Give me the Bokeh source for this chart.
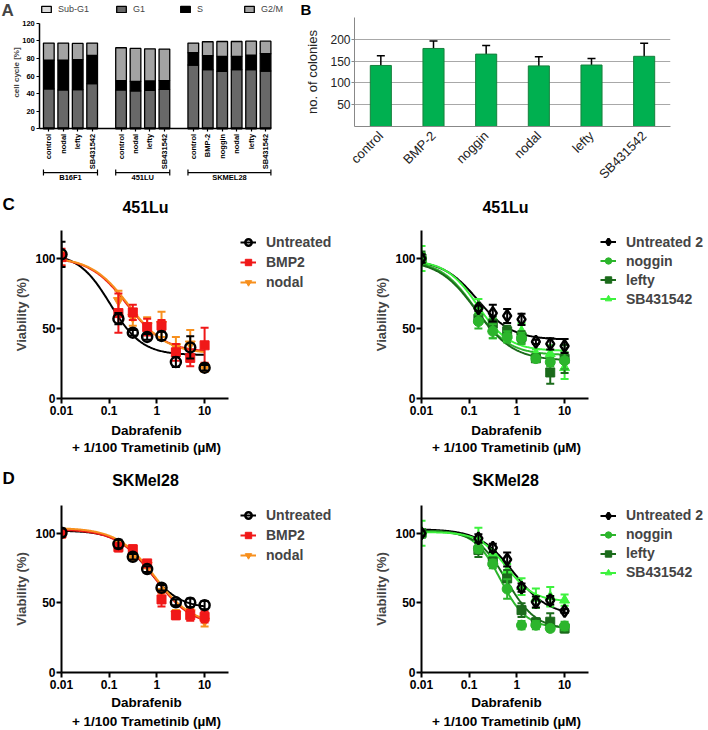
import math
import numpy as np
from bokeh.plotting import figure
from bokeh.models import (Range1d, FactorRange, FixedTicker, Legend, LegendItem, Label,
                          ColumnDataSource, Whisker, TeeHead)
from bokeh.layouts import column, row
from bokeh.embed import file_html
from bokeh.resources import INLINE
from bokeh.core.properties import value

FONT = "Liberation Sans"

# ---------------- Panel A: cell cycle distribution ----------------
a_groups = ["B16F1", "451LU", "SKMEL28"]
a_conditions_b16f1 = ["control", "nodal", "lefty", "SB431542"]
a_conditions_451lu = ["control", "nodal", "lefty", "SB431542"]
a_conditions_skmel28 = ["control", "BMP-2", "noggin", "nodal", "lefty", "SB431542"]
a_phases = ["Sub-G1", "G1", "S", "G2/M"]
a_subg1 = [1.0, 1.0, 1.0, 1.0, 1.0, 1.0, 1.0, 1.0, 1.0, 1.0, 1.0, 1.0, 1.0, 1.0]
a_g1 = [44.3, 43.2, 43.5, 50.3, 43.2, 42.0, 42.8, 43.9, 71.5, 66.2, 64.3, 66.2, 66.2, 64.7]
a_s = [32.8, 33.9, 34.0, 32.1, 10.5, 11.0, 10.5, 9.8, 13.9, 15.8, 17.0, 15.1, 16.6, 19.6]
a_g2m = [19.3, 19.3, 18.5, 14.0, 37.4, 37.3, 36.6, 35.9, 11.0, 15.9, 16.9, 16.9, 15.8, 14.3]
a_y_ticks = [0, 20, 40, 60, 80, 100, 120]

# ---------------- Panel B: colony numbers ----------------
b_conditions = ["control", "BMP-2", "noggin", "nodal", "lefty", "SB431542"]
b_colonies = [140, 179, 166, 139, 141, 161]
b_sd = [22, 17, 20, 21, 15, 30]
b_y_ticks = [50, 100, 150, 200]
b_grid_ticks = [50, 100, 150, 200, 250]

# ---------------- Panels C/D: dose response ----------------
doses = [0.01, 0.156, 0.3125, 0.625, 1.25, 2.5, 5, 10]
x_ticks = [0.01, 0.1, 1, 10]
x_tick_labels = ["0.01", "0.1", "1", "10"]
y_ticks = [0, 50, 100]
x_label_1 = "Dabrafenib"
x_label_2 = "+ 1/100 Trametinib (µM)"

# C left: 451Lu
c1_names = ["Untreated", "BMP2", "nodal"]
c1_untreated = [103, 57, 47, 44, 44.7, 26, 36.5, 22]
c1_untreated_sd = [9, 4, 2, 2, 3, 3.5, 8, 2]
c1_bmp2 = [101, 61, 61.5, 51, 52, 33, 29, 38]
c1_bmp2_sd = [6, 14, 5.5, 6, 4, 6, 6, 12.5]
c1_nodal = [100, 70, 58, 52, 53, 37, 39, 22]
c1_nodal_sd = [5, 7, 6, 6, 9, 7, 10, 3]
c1_fit_top = [104, 101, 101]
c1_fit_bottom = [31, 33, 32]
c1_fit_ec50 = [0.105, 0.24, 0.26]
c1_fit_hill = [1.3, 1.1, 1.1]

# C right: 451Lu
c2_names = ["Untreated 2", "noggin", "lefty", "SB431542"]
c2_untreated2 = [100, 64.5, 61, 59, 56.5, 40.5, 39, 37.5]
c2_untreated2_sd = [3, 2, 6, 5, 4, 1.5, 4, 5]
c2_noggin = [100, 55, 48, 44, 43, 28.5, 26, 27]
c2_noggin_sd = [4, 5, 5, 4, 4, 2, 3, 6]
c2_lefty = [100, 57, 53.5, 48, 44, 28.7, 18.6, 28.3]
c2_lefty_sd = [5, 3, 5, 4, 4, 2, 8, 10]
c2_sb431542 = [100, 66, 50, 45, 48, 32, 32, 22]
c2_sb431542_sd = [9, 5, 7, 4, 6, 3, 6, 8]
c2_fit_top = [99, 99, 99, 99]
c2_fit_bottom = [42, 31, 27, 34]
c2_fit_ec50 = [0.15, 0.13, 0.14, 0.15]
c2_fit_hill = [1.2, 1.2, 1.1, 1.3]

# D left: SKMel28
d1_names = ["Untreated", "BMP2", "nodal"]
d1_untreated = [100.5, 92.3, 83.2, 74.3, 60.9, 50.4, 50.1, 48.4]
d1_untreated_sd = [3, 3, 2, 2, 2, 2, 3, 3]
d1_bmp2 = [100, 90, 88.5, 78.4, 52.5, 41.2, 41.2, 40]
d1_bmp2_sd = [3, 3, 3, 2, 5, 3, 4, 4]
d1_nodal = [100, 92, 83, 77, 57, 42, 43, 37]
d1_nodal_sd = [3, 2, 2, 2, 3, 3, 3, 4]
d1_fit_top = [102, 103, 104]
d1_fit_bottom = [46, 33, 34]
d1_fit_ec50 = [0.65, 0.9, 0.9]
d1_fit_hill = [1.3, 1.1, 1.1]

# D right: SKMel28
d2_names = ["Untreated 2", "noggin", "lefty", "SB431542"]
d2_untreated2 = [100, 96.4, 89.6, 81.2, 61, 50.7, 51.9, 44.2]
d2_untreated2_sd = [2, 3, 3, 5, 3, 4, 3, 1.5]
d2_noggin = [100, 89, 78, 60, 34, 34, 31.7, 33.4]
d2_noggin_sd = [3, 3, 3, 7, 3, 3, 2, 3]
d2_lefty = [100, 88, 79.6, 67.6, 44.8, 36, 36.5, 31.7]
d2_lefty_sd = [3, 5, 3, 6, 5, 3, 6, 3]
d2_sb431542 = [100, 96, 85, 73, 61.7, 53.3, 54.5, 52]
d2_sb431542_sd = [9, 8, 3, 5, 6, 7, 7, 4]
d2_fit_top = [103, 102, 102, 101]
d2_fit_bottom = [41, 32, 31, 51]
d2_fit_ec50 = [0.85, 0.45, 0.6, 0.6]
d2_fit_hill = [1.2, 1.6, 1.4, 1.5]

# styles
BLACK = "#000000"
RED = "#f01818"
ORANGE = "#f7901e"
NOGGIN = "#2cb52c"
LEFTY = "#1b6b1b"
SBG = "#3df23d"


def base_fig(width, height, left=0, right=0, top=0, bottom=0, **kw):
    p = figure(width=width, height=height, output_backend="svg", toolbar_location=None,
               min_border_left=left, min_border_right=right, min_border_top=top,
               min_border_bottom=bottom, **kw)
    try:
        p.title = None
    except Exception:
        p.title.visible = False
    try:
        p.frame_align = False
    except Exception:
        pass
    p.outline_line_color = None
    p.grid.visible = False
    return p


def strip(width, height, items):
    s = base_fig(width, height, x_range=Range1d(0, width), y_range=Range1d(height, 0))
    s.axis.visible = False
    for x, y, txt, size, align, baseline in items:
        s.text(x=[x], y=[y], text=[txt], text_align=align, text_baseline=baseline,
               text_font=value(FONT), text_font_size=size, text_font_style="bold", text_color="black")
    return s


# =============== Panel A ===============
a_conditions = [a_conditions_b16f1, a_conditions_451lu, a_conditions_skmel28]
a_x, a_names, spans = [], [], []
pos = 0
for conds in a_conditions:
    first = pos
    for c in conds:
        a_x.append(pos)
        a_names.append(c)
        pos += 1
    spans.append((first, pos - 1))
    pos += 1

A_W, A_H = 300, 190
A_PX = 14.45          # pixels per bar slot
A_X0 = -3.343         # data x at left edge
A_PY = 0.88           # pixels per percent
A_AXIS_X = -0.623
pA = base_fig(A_W, A_H, x_range=Range1d(A_X0, A_X0 + A_W / A_PX),
              y_range=Range1d(-(A_H - 128.3) / A_PY, 128.3 / A_PY))
srcA = ColumnDataSource(dict(x=a_x, subg1=a_subg1, g1=a_g1, s=a_s, g2m=a_g2m))
a_colors = ["#dcdcdc", "#686868", "#000000", "#a3a3a3"]
rA = pA.vbar_stack(["subg1", "g1", "s", "g2m"], x="x", width=0.74, color=a_colors,
                   line_color="black", line_width=1.3, source=srcA)

xa = pA.xaxis[0]
xa.fixed_location = 0
xa.bounds = (A_AXIS_X, a_x[-1] + 0.35)
xa.ticker = FixedTicker(ticks=a_x)
xa.major_label_overrides = {x: n for x, n in zip(a_x, a_names)}
xa.major_label_orientation = math.pi / 2
ya = pA.yaxis[0]
ya.fixed_location = A_AXIS_X
ya.bounds = (0, 120)
ya.ticker = FixedTicker(ticks=a_y_ticks)
for ax in (xa, ya):
    ax.axis_line_width = 1.5
    ax.major_tick_out = 3
    ax.major_tick_in = 0
    ax.major_tick_line_width = 1.2
    ax.minor_tick_line_color = None
    ax.major_label_text_font = FONT
    ax.major_label_text_font_size = "7.5px"
    ax.major_label_text_font_style = "bold"
    ax.major_label_text_color = "black"
    ax.major_label_standoff = 2

half = 0.37
bx0 = [s - half for s, e in spans]
bx1 = [e + half for s, e in spans]
pA.segment(x0=bx0, y0=[-49.7] * 3, x1=bx1, y1=[-49.7] * 3, line_color="black", line_width=1.2)
pA.segment(x0=bx0 + bx1, y0=[-46.3] * 6, x1=bx0 + bx1, y1=[-53.1] * 6, line_color="black", line_width=1.2)
pA.text(x=[(s + e) / 2 for s, e in spans], y=[-55.5] * 3, text=a_groups, text_align="center",
        text_baseline="middle", text_font=value(FONT), text_font_size="7.5px", text_font_style="bold")

legA = Legend(items=[LegendItem(label=ph, renderers=[r]) for ph, r in zip(a_phases, rA)],
              location=(40, 176), orientation="horizontal", spacing=26, glyph_width=12,
              glyph_height=8, label_height=9, label_standoff=6, padding=0, margin=0,
              border_line_color=None, background_fill_alpha=0, label_text_font=FONT,
              label_text_font_size="9px")
pA.add_layout(legA)
pA.add_layout(Label(x=-2.235, y=64, text="cell cycle [%]", angle=math.pi / 2, text_align="center",
                    text_baseline="middle", text_font=FONT, text_font_size="8px", text_font_style="bold"))
pA.add_layout(Label(x=A_X0 + 1 / A_PX, y=134.4, text="A", text_align="left", text_baseline="middle",
                    text_font=FONT, text_font_size="17px", text_font_style="bold"))

# =============== Panel B ===============
stripB = strip(408, 17, [(0, 8.5, "B", "15px", "left", "middle")])
pB = base_fig(408, 173, left=54, right=38, top=0, bottom=61,
              x_range=FactorRange(factors=b_conditions), y_range=Range1d(0, 250))
pB.ygrid.visible = True
pB.ygrid.ticker = FixedTicker(ticks=b_grid_ticks)
pB.ygrid.grid_line_color = "#a8a8a8"
srcB = ColumnDataSource(dict(x=b_conditions, top=b_colonies,
                             lo=[m - s for m, s in zip(b_colonies, b_sd)],
                             hi=[m + s for m, s in zip(b_colonies, b_sd)]))
pB.vbar(x="x", top="top", width=0.4, source=srcB, fill_color="#00b050", line_color="#17803d", line_width=1)
pB.add_layout(Whisker(source=srcB, base="x", upper="hi", lower="lo", line_color="black", line_width=1.5,
                      upper_head=TeeHead(size=8, line_color="black", line_width=1.5),
                      lower_head=TeeHead(size=8, line_color="black", line_width=1.5)))
yb = pB.yaxis[0]
yb.ticker = FixedTicker(ticks=b_y_ticks)
yb.axis_label = "no. of colonies"
yb.axis_label_text_font = FONT
yb.axis_label_text_font_style = "normal"
yb.axis_label_text_font_size = "13px"
yb.axis_label_text_color = "#222222"
yb.axis_label_standoff = 7
xb = pB.xaxis[0]
xb.major_label_orientation = math.pi / 4
xb.major_tick_line_color = None
for ax in (xb, yb):
    ax.axis_line_color = "#888888"
    ax.major_tick_out = 3
    ax.major_tick_in = 0
    ax.minor_tick_line_color = None
    ax.major_label_text_font = FONT
    ax.major_label_text_color = "#222222"
yb.major_label_standoff = 1
xb.major_label_standoff = 4
yb.major_tick_line_color = "#888888"
yb.major_label_text_font_size = "12px"
xb.major_label_text_font_size = "13px"


# =============== Panels C/D ===============
PX_DECADE = 47.7


def dose_panel(width, height, left, top, bottom, names, means, sds,
               fit_top, fit_bottom, fit_ec50, fit_hill, colors, markers, filled, sizes, item_h, leg_top):
    frame_w = width - left
    frame_h = height - top - bottom
    p = base_fig(width, height, left=left, right=0, top=top, bottom=bottom, x_axis_type="log",
                 x_range=Range1d(0.01, 10 ** (-2 + frame_w / PX_DECADE)), y_range=Range1d(0, 120))
    xs_fit = np.logspace(-2, 1, 160)
    line_rs = []
    for i in range(len(names)):
        y_fit = fit_bottom[i] + (fit_top[i] - fit_bottom[i]) / (1 + (xs_fit / fit_ec50[i]) ** fit_hill[i])
        line_rs.append(p.line(xs_fit, y_fit, line_color=colors[i], line_width=2))
    pt_rs = [None] * len(names)
    for i in reversed(range(len(names))):
        lo = [m - s for m, s in zip(means[i], sds[i])]
        hi = [m + s for m, s in zip(means[i], sds[i])]
        p.segment(x0=doses, y0=lo, x1=doses, y1=hi, line_color=colors[i], line_width=2)
        p.scatter(x=doses + doses, y=lo + hi, marker="dash", size=8, line_color=colors[i], line_width=2)
        pt_rs[i] = p.scatter(doses, means[i], marker=markers[i], size=sizes[i], line_color=colors[i],
                             line_width=2.5 if not filled[i] else 1,
                             fill_color=colors[i] if filled[i] else None)
    xa = p.xaxis[0]
    xa.ticker = FixedTicker(ticks=x_ticks)
    xa.major_label_overrides = {t: l for t, l in zip(x_ticks, x_tick_labels)}
    xa.bounds = (0.01, 10 ** 1.5)
    ya = p.yaxis[0]
    ya.ticker = FixedTicker(ticks=y_ticks)
    ya.axis_label = "Viability (%)"
    for ax in (xa, ya):
        ax.axis_line_width = 2
        ax.axis_line_color = "black"
        ax.major_tick_line_width = 2
        ax.major_tick_out = 5
        ax.major_tick_in = 0
        ax.minor_tick_line_color = None
        ax.major_label_text_font = FONT
        ax.major_label_text_font_size = "12px"
        ax.major_label_text_font_style = "bold"
        ax.major_label_text_color = "black"
        ax.axis_label_text_font = FONT
        ax.axis_label_text_font_size = "13px"
        ax.axis_label_text_font_style = "bold"
        ax.axis_label_standoff = 3
    xa.major_label_standoff = 2
    ya.major_label_standoff = 1
    n = len(names)
    leg = Legend(items=[LegendItem(label=names[i], renderers=[line_rs[i], pt_rs[i]]) for i in range(n)],
                 location=(179, frame_h - leg_top - n * item_h), glyph_width=16, glyph_height=item_h,
                 label_height=item_h, label_standoff=10, spacing=0, padding=0, margin=0,
                 border_line_color=None, background_fill_alpha=0, label_text_font=FONT,
                 label_text_font_style="bold", label_text_font_size="14px")
    p.add_layout(leg)
    return p


c1_colors = [BLACK, RED, ORANGE]
c1_markers = ["circle", "square", "inverted_triangle"]
c2_colors = [BLACK, NOGGIN, LEFTY, SBG]
c2_markers = ["diamond", "circle", "square", "triangle"]

pC1 = dose_panel(347, 200, 61, 10, 22, c1_names,
                 [c1_untreated, c1_bmp2, c1_nodal], [c1_untreated_sd, c1_bmp2_sd, c1_nodal_sd],
                 c1_fit_top, c1_fit_bottom, c1_fit_ec50, c1_fit_hill,
                 c1_colors, c1_markers, [False, True, True], [10, 9, 10], 20, 1.7)
pC2 = dose_panel(361, 200, 74, 10, 22, c2_names,
                 [c2_untreated2, c2_noggin, c2_lefty, c2_sb431542],
                 [c2_untreated2_sd, c2_noggin_sd, c2_lefty_sd, c2_sb431542_sd],
                 c2_fit_top, c2_fit_bottom, c2_fit_ec50, c2_fit_hill,
                 c2_colors, c2_markers, [False, True, True, True], [12, 10, 9, 10], 19, 2.2)
pD1 = dose_panel(347, 204, 61, 15, 22, d1_names,
                 [d1_untreated, d1_bmp2, d1_nodal], [d1_untreated_sd, d1_bmp2_sd, d1_nodal_sd],
                 d1_fit_top, d1_fit_bottom, d1_fit_ec50, d1_fit_hill,
                 c1_colors, c1_markers, [False, True, True], [10, 9, 10], 20, 0)
pD2 = dose_panel(361, 204, 74, 15, 22, d2_names,
                 [d2_untreated2, d2_noggin, d2_lefty, d2_sb431542],
                 [d2_untreated2_sd, d2_noggin_sd, d2_lefty_sd, d2_sb431542_sd],
                 d2_fit_top, d2_fit_bottom, d2_fit_ec50, d2_fit_hill,
                 c2_colors, c2_markers, [False, True, True, True], [12, 10, 9, 10], 19, 0.5)

stripC = strip(708, 30, [(2, 13.5, "C", "17px", "left", "middle"),
                         (145, 17, "451Lu", "16px", "center", "middle"),
                         (505, 17, "451Lu", "16px", "center", "middle")])
stripCD = strip(708, 70, [(146, 10, x_label_1, "13.5px", "center", "middle"),
                          (146, 26.7, x_label_2, "13.5px", "center", "middle"),
                          (506, 10, x_label_1, "13.5px", "center", "middle"),
                          (506, 26.7, x_label_2, "13.5px", "center", "middle"),
                          (2, 58, "D", "17px", "left", "middle"),
                          (145, 60, "SKMel28", "16px", "center", "middle"),
                          (505, 60, "SKMel28", "16px", "center", "middle")])
stripD = strip(708, 36, [(146, 8, x_label_1, "13.5px", "center", "middle"),
                         (146, 26.7, x_label_2, "13.5px", "center", "middle"),
                         (506, 8, x_label_1, "13.5px", "center", "middle"),
                         (506, 26.7, x_label_2, "13.5px", "center", "middle")])

layout = column(row(pA, column(stripB, pB)), stripC, row(pC1, pC2), stripCD, row(pD1, pD2), stripD)
open("out.html", "w").write(file_html(layout, INLINE))
